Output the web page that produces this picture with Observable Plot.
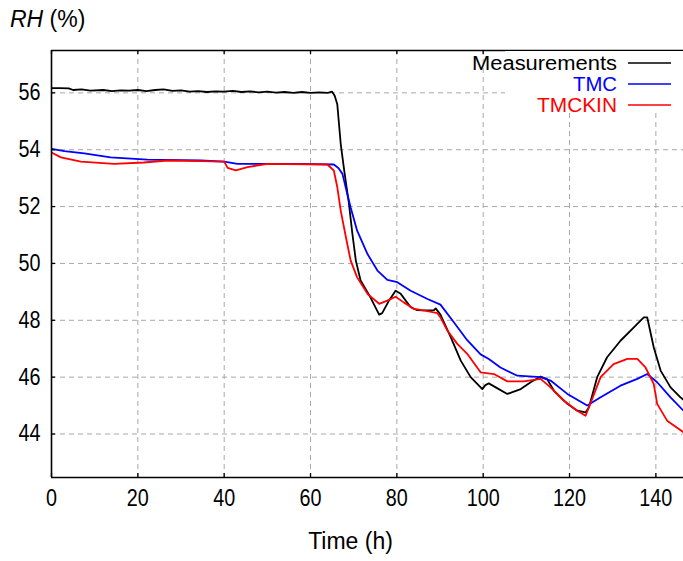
<!DOCTYPE html>
<html>
<head>
<meta charset="utf-8">
<script src="https://cdn.jsdelivr.net/npm/d3@7"></script>
<script src="https://cdn.jsdelivr.net/npm/@observablehq/plot@0.6"></script>
<style>
  html, body { margin: 0; padding: 0; background: #fff; }
  #wrap { position: relative; width: 683px; height: 561px; overflow: hidden; }
  #ylab { position: absolute; left: 10px; top: 6px; font: 23px "Liberation Sans", Arial, sans-serif; line-height: 27px; color: #000; }
  #legend { position: absolute; left: 460px; top: 51px; width: 223px; height: 74px; }
</style>
</head>
<body>
<div id="wrap">
  <div id="chart"></div>
  <div id="ylab"><i>RH</i> (%)</div>
  <div id="legend"></div>
</div>
<script>
// ---- data ----
const xTicks = [0, 20, 40, 60, 80, 100, 120, 140];
const yTicks = [44, 46, 48, 50, 52, 54, 56];
const xDomain = [0, 146.4];
const yDomain = [42.47, 57.49];

const seriesNames = ["Measurements", "TMC", "TMCKIN"];
const seriesColors = ["#000000", "#0000ff", "#ff0000"];

const measT = [0, 2, 4, 5, 7, 9, 12, 14, 16, 18, 20, 22, 24, 26, 28, 30, 32, 34, 36, 38, 40, 42, 44, 46, 48, 50, 52, 54, 56, 58, 60, 62, 64, 65, 65.6, 66.2, 67.0, 67.8, 68.9, 69.7, 70.5, 71.6, 73.9, 75.9, 76.6, 78.2, 79.7, 80.9, 83.2, 84.7, 86, 88.6, 89, 90.1, 92.5, 94.8, 97.1, 99.8, 100.5, 101.3, 102.9, 105.6, 108.7, 111.0, 113.3, 114.8, 116.4, 119.5, 121.8, 123.7, 124.5, 126.4, 128.7, 131.8, 134.9, 137.2, 138, 139.5, 141.1, 143.4, 145.7, 146.4];
const measV = [56.17, 56.17, 56.16, 56.1, 56.12, 56.08, 56.1, 56.06, 56.09, 56.08, 56.1, 56.06, 56.1, 56.12, 56.07, 56.09, 56.04, 56.06, 56.03, 56.05, 56.04, 56.07, 56.03, 56.05, 56.02, 56.04, 56.01, 56.03, 56.0, 56.03, 56.0, 56.02, 56.0, 56.04, 55.9, 55.6, 54.2, 53.27, 52.1, 51.04, 50.1, 49.4, 48.8, 48.2, 48.25, 48.7, 49.04, 48.93, 48.46, 48.36, 48.35, 48.36, 48.42, 48.2, 47.4, 46.58, 46.0, 45.58, 45.72, 45.78, 45.64, 45.41, 45.58, 45.82, 46.02, 45.93, 45.52, 45.06, 44.82, 44.76, 44.94, 46.0, 46.7, 47.28, 47.75, 48.1, 48.1, 47.05, 46.23, 45.64, 45.29, 45.2];

const tmcT = [0, 3, 7.6, 13.7, 22.2, 34.6, 40, 43.1, 57.7, 65.4, 66.5, 67.4, 68.5, 69.3, 70.8, 73.2, 75.5, 77.8, 80.1, 83.2, 87.1, 90.1, 93.2, 96.3, 99.4, 101.3, 104.0, 107.9, 113.3, 115.6, 119.5, 124.1, 127.2, 131.8, 135.7, 138.0, 140.3, 143.4, 146.4];
const tmcV = [54.03, 53.95, 53.87, 53.73, 53.65, 53.62, 53.58, 53.5, 53.5, 53.48, 53.35, 53.15, 52.45, 51.97, 51.15, 50.33, 49.75, 49.42, 49.34, 49.04, 48.75, 48.55, 47.93, 47.3, 46.8, 46.64, 46.34, 46.05, 46.0, 45.88, 45.41, 45.0, 45.29, 45.7, 45.94, 46.11, 45.82, 45.29, 44.82];

const kinT = [0, 2.2, 6.8, 14.5, 21.4, 26.9, 34.6, 40, 40.8, 42.7, 45.4, 50, 63.9, 65.4, 66.2, 67.0, 68.2, 69.3, 70.8, 73.2, 75.9, 77.8, 79.7, 81.6, 84.0, 87.1, 89.4, 90.1, 91.7, 94.0, 96.3, 99.4, 102.5, 105.6, 109.4, 113.3, 115.6, 118.7, 121.8, 123.7, 124.8, 127.2, 130.2, 133.4, 135.7, 137.6, 139.5, 140.3, 142.6, 146.4];
const kinV = [53.9, 53.73, 53.58, 53.5, 53.55, 53.62, 53.6, 53.58, 53.36, 53.27, 53.39, 53.5, 53.48, 53.27, 52.68, 51.86, 50.92, 50.1, 49.51, 48.93, 48.58, 48.69, 48.83, 48.63, 48.4, 48.32, 48.25, 48.1, 47.64, 47.17, 46.82, 46.17, 46.11, 45.85, 45.85, 45.94, 45.64, 45.17, 44.82, 44.64, 45.06, 46.0, 46.46, 46.64, 46.64, 46.34, 45.76, 45.06, 44.47, 44.06];

// ---- build tables ----
const toRows = (ts, vs, s) => ts.map((t, i) => ({t, v: vs[i], s}));
const rows = [
  ...toRows(measT, measV, seriesNames[0]),
  ...toRows(tmcT, tmcV, seriesNames[1]),
  ...toRows(kinT, kinV, seriesNames[2])
];

const W = 683, H = 561, mL = 51, mT = 50, mB = 84, mR = 0;
const plotH = H - mT - mB, plotW = W - mL - mR;
const font = '"Liberation Sans", Arial, sans-serif';
const gridStyle = {stroke: "#a8a8a8", strokeOpacity: 1, strokeWidth: 1, strokeDasharray: "5,4"};

const chart = Plot.plot({
  width: W, height: H,
  marginLeft: mL, marginTop: mT, marginBottom: mB, marginRight: mR,
  style: {fontFamily: font, fontSize: "23px", color: "#000", background: "#fff"},
  x: {domain: xDomain},
  y: {domain: yDomain},
  color: {domain: seriesNames, range: seriesColors},
  marks: [
    Plot.gridX(xTicks.filter(d => d > xDomain[0]), gridStyle),
    Plot.gridY(yTicks, gridStyle),
    Plot.line(rows, {x: "t", y: "v", z: "s", stroke: "s", strokeWidth: 1.8, clip: true}),
    Plot.ruleX([xDomain[0]], {stroke: "#000", strokeWidth: 1.6}),
    Plot.ruleY([yDomain[0], yDomain[1]], {stroke: "#000", strokeWidth: 1.6}),
    Plot.tickX(xTicks, {x: d => d, stroke: "#000", strokeWidth: 1.3, insetTop: plotH - 4}),
    Plot.tickX(xTicks, {x: d => d, stroke: "#000", strokeWidth: 1.3, insetBottom: plotH - 4}),
    Plot.tickY(yTicks, {y: d => d, stroke: "#000", strokeWidth: 1.3, insetRight: plotW - 4}),
    Plot.axisX(xTicks, {tickSize: 0, tickPadding: 12, label: null, fontSize: 23}),
    Plot.axisY(yTicks, {tickSize: 0, tickPadding: 11, label: null, fontSize: 23}),
    Plot.text(["Time (h)"], {frameAnchor: "bottom", dx: -17, dy: 71, fontSize: 23, fill: "#000"})
  ]
});
document.getElementById("chart").appendChild(chart);

// condensed look of the tick labels (about 11px per digit)
d3.select(chart).selectAll('g[aria-label="x-axis tick label"] text, g[aria-label="y-axis tick label"] text')
  .each(function() {
    const n = this.textContent.length;
    this.setAttribute("textLength", 11 * n);
    this.setAttribute("lengthAdjust", "spacingAndGlyphs");
  });

// ---- legend (top-right, white box) ----
const legendWidths = [145, 44, 80];
const leg = d3.select("#legend").append("svg").attr("width", 223).attr("height", 74);
leg.append("rect").attr("x", 45).attr("y", 0).attr("width", 178).attr("height", 62).attr("fill", "#fff");
seriesNames.forEach((name, i) => {
  const cy = 12 + i * 21;
  leg.append("text")
    .attr("x", 157).attr("y", cy).attr("dy", "0.36em")
    .attr("text-anchor", "end")
    .attr("font-family", font).attr("font-size", 20)
    .attr("textLength", legendWidths[i]).attr("lengthAdjust", "spacingAndGlyphs")
    .attr("fill", seriesColors[i]).text(name);
  leg.append("line")
    .attr("x1", 168).attr("x2", 211).attr("y1", cy).attr("y2", cy)
    .attr("stroke", seriesColors[i]).attr("stroke-width", 1.7);
});
</script>
</body>
</html>
